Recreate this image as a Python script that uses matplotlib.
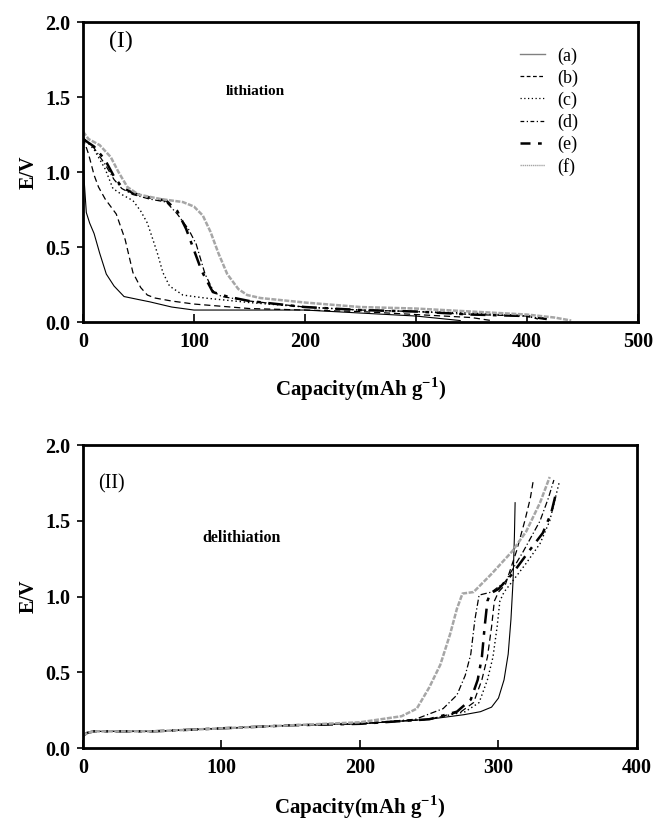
import matplotlib
matplotlib.use("Agg")
import matplotlib.pyplot as plt
from matplotlib.lines import Line2D

plt.rcParams['font.family'] = ['Liberation Serif', 'DejaVu Serif']
plt.rcParams['mathtext.fontset'] = 'custom'
plt.rcParams['mathtext.rm'] = 'Liberation Serif'
plt.rcParams['mathtext.bf'] = 'Liberation Serif:bold'

labels = ['(a)', '(b)', '(c)', '(d)', '(e)', '(f)']

# Lithiation (panel I)
li_a_x = [0, 1, 3, 6, 10, 15, 21, 28, 37, 50, 60, 80, 100, 150, 200, 250, 300, 340]
li_a_y = [1.25, 0.95, 0.73, 0.66, 0.59, 0.46, 0.32, 0.24, 0.17, 0.15, 0.135, 0.10, 0.08, 0.08, 0.08, 0.06, 0.04, 0.01]
li_b_x = [0, 5, 10, 14, 20, 30, 38, 45, 52, 58, 65, 80, 100, 150, 200, 250, 300, 350, 368]
li_b_y = [1.23, 1.12, 0.98, 0.90, 0.82, 0.72, 0.55, 0.33, 0.23, 0.18, 0.16, 0.14, 0.12, 0.09, 0.08, 0.07, 0.05, 0.03, 0.01]
li_c_x = [0, 10, 20, 27, 35, 45, 52, 58, 63, 67, 72, 78, 90, 110, 150, 200, 250, 300, 350, 400, 415]
li_c_y = [1.23, 1.15, 1.02, 0.89, 0.85, 0.81, 0.74, 0.66, 0.55, 0.46, 0.33, 0.24, 0.18, 0.16, 0.13, 0.10, 0.08, 0.07, 0.06, 0.04, 0.02]
li_d_x = [0, 10, 20, 28, 35, 45, 60, 75, 85, 95, 102, 110, 118, 125, 150, 200, 250, 300, 350, 400, 410]
li_d_y = [1.23, 1.16, 1.05, 0.95, 0.89, 0.85, 0.82, 0.80, 0.72, 0.62, 0.52, 0.32, 0.20, 0.17, 0.14, 0.10, 0.08, 0.07, 0.05, 0.04, 0.02]
li_e_x = [0, 10, 20, 28, 35, 45, 60, 75, 85, 93, 100, 107, 117, 130, 150, 200, 250, 300, 350, 400, 418]
li_e_y = [1.22, 1.17, 1.08, 0.97, 0.90, 0.86, 0.83, 0.81, 0.74, 0.62, 0.48, 0.34, 0.20, 0.17, 0.14, 0.10, 0.08, 0.07, 0.05, 0.04, 0.02]
li_f_x = [0, 5, 15, 25, 32, 40, 50, 70, 90, 100, 108, 115, 122, 130, 140, 148, 160, 200, 250, 300, 350, 400, 425, 440]
li_f_y = [1.27, 1.22, 1.18, 1.10, 1.00, 0.90, 0.85, 0.82, 0.80, 0.77, 0.71, 0.60, 0.46, 0.32, 0.22, 0.18, 0.16, 0.13, 0.10, 0.09, 0.07, 0.05, 0.03, 0.01]

# Delithiation (panel II)
de_a_x = [0, 3, 8, 50, 100, 150, 200, 250, 275, 287, 295, 300, 304, 307, 309, 310.5, 311.5, 312]
de_a_y = [0.08, 0.10, 0.11, 0.11, 0.13, 0.15, 0.16, 0.19, 0.22, 0.24, 0.27, 0.33, 0.45, 0.62, 0.85, 1.1, 1.4, 1.62]
de_b_x = [0, 3, 8, 50, 100, 150, 200, 250, 273, 282, 288, 292, 295, 297, 300, 305, 313, 319, 323, 325]
de_b_y = [0.08, 0.10, 0.11, 0.11, 0.13, 0.15, 0.16, 0.19, 0.24, 0.30, 0.45, 0.60, 0.80, 0.97, 1.03, 1.08, 1.30, 1.50, 1.65, 1.76]
de_c_x = [0, 3, 8, 50, 100, 150, 200, 250, 276, 286, 292, 296, 299, 301, 304, 310, 320, 330, 337, 341, 344]
de_c_y = [0.08, 0.10, 0.11, 0.11, 0.13, 0.15, 0.16, 0.19, 0.24, 0.30, 0.45, 0.60, 0.80, 0.97, 1.03, 1.10, 1.22, 1.35, 1.50, 1.65, 1.76]
de_d_x = [0, 3, 8, 50, 100, 150, 200, 240, 260, 270, 276, 280, 283, 286, 295, 305, 318, 330, 336, 340]
de_d_y = [0.08, 0.10, 0.11, 0.11, 0.13, 0.15, 0.16, 0.19, 0.26, 0.35, 0.48, 0.62, 0.85, 1.01, 1.03, 1.10, 1.30, 1.50, 1.65, 1.77]
de_e_x = [0, 3, 8, 50, 100, 150, 200, 250, 270, 280, 285, 288, 290, 292, 294, 300, 310, 322, 332, 338, 342]
de_e_y = [0.08, 0.10, 0.11, 0.11, 0.13, 0.15, 0.16, 0.19, 0.24, 0.32, 0.45, 0.60, 0.80, 0.97, 1.02, 1.05, 1.15, 1.30, 1.42, 1.55, 1.70]
de_f_x = [0, 3, 8, 50, 100, 150, 200, 230, 241, 250, 258, 265, 270, 274, 282, 295, 310, 320, 330, 337]
de_f_y = [0.08, 0.10, 0.11, 0.11, 0.13, 0.15, 0.17, 0.21, 0.26, 0.40, 0.55, 0.75, 0.92, 1.02, 1.03, 1.15, 1.30, 1.43, 1.62, 1.79]

li_series = [(li_a_x, li_a_y), (li_b_x, li_b_y), (li_c_x, li_c_y),
             (li_d_x, li_d_y), (li_e_x, li_e_y), (li_f_x, li_f_y)]
de_series = [(de_a_x, de_a_y), (de_b_x, de_b_y), (de_c_x, de_c_y),
             (de_d_x, de_d_y), (de_e_x, de_e_y), (de_f_x, de_f_y)]

styles = [
    dict(color='black', lw=0.8, linestyle='-'),
    dict(color='black', lw=0.9, linestyle=(0, (5, 3))),
    dict(color='black', lw=1.0, linestyle=(0, (1, 2))),
    dict(color='black', lw=0.9, linestyle=(0, (5, 2, 1, 2))),
    dict(color='black', lw=1.8, linestyle=(0, (6, 3, 1.5, 3))),
    dict(color='#a6a6a6', lw=1.8, linestyle=(0, (2, 0.6))),
]
leg_styles = [
    dict(color='#808080', lw=1.0, linestyle='-'),
    dict(color='black', lw=0.9, linestyle=(0, (3, 2))),
    dict(color='black', lw=0.9, linestyle=(0, (1, 2))),
    dict(color='black', lw=0.9, linestyle=(0, (3, 2, 1, 2))),
    dict(color='black', lw=1.8, linestyle=(0, (4, 3, 1.5, 3))),
    dict(color='#a6a6a6', lw=1.0, linestyle=(0, (1, 0.5))),
]

fig = plt.figure(figsize=(6.55, 8.23), dpi=100)
ax1 = fig.add_axes([0.1267, 0.6087, 0.847, 0.3645])
ax2 = fig.add_axes([0.1267, 0.0911, 0.8458, 0.368])

def style_axes(ax, xmax, xstep, xlabelpad):
    ax.set_ylim(0, 2.0)
    ax.set_xlim(0, xmax)
    ax.set_xticks(range(0, xmax + 1, xstep))
    ax.set_yticks([0.0, 0.5, 1.0, 1.5, 2.0])
    ax.set_yticklabels(['0.0', '0.5', '1.0', '1.5', '2.0'])
    for s in ax.spines.values():
        s.set_linewidth(2.0)
    ax.tick_params(axis='x', direction='in', length=6, width=1.2, pad=7,
                   labelsize=14.5, top=False)
    ax.tick_params(axis='y', direction='out', length=4, width=1.2, pad=5,
                   labelsize=14.5, right=False)
    for t in ax.get_xticklabels() + ax.get_yticklabels():
        t.set_fontweight('bold')
    ax.set_ylabel('E/V', fontsize=14.5, fontweight='bold', labelpad=5)
    ax.set_xlabel(r'Capacity(mAh g$^{\mathbf{-1}}$)', fontsize=15,
                  fontweight='bold', labelpad=xlabelpad)

for (x, y), st in zip(li_series, styles):
    ax1.plot(x, y, **st)
for (x, y), st in zip(de_series, styles):
    ax2.plot(x, y, **st)

style_axes(ax1, 500, 100, 17)
style_axes(ax2, 400, 100, 11)

handles = [Line2D([], [], **st) for st in leg_styles]
ax1.legend(handles, labels, loc='upper left', bbox_to_anchor=(0.788, 0.915),
           frameon=False, fontsize=13, handlelength=1.35, handletextpad=0.7,
           labelspacing=0.26, borderaxespad=0, borderpad=0)

ax1.text(0.047, 0.97, '(I)', transform=ax1.transAxes, fontsize=17,
         va='top', ha='left')
ax1.text(0.258, 0.767, 'lithiation', transform=ax1.transAxes, fontsize=11,
         fontweight='bold', va='center', ha='left')
ax2.text(0.027, 0.872, '(II)', transform=ax2.transAxes, fontsize=14.5,
         va='center', ha='left')
ax2.text(0.215, 0.695, 'delithiation', transform=ax2.transAxes, fontsize=11.5,
         fontweight='bold', va='center', ha='left')

fig.savefig('out.png', dpi=100)
